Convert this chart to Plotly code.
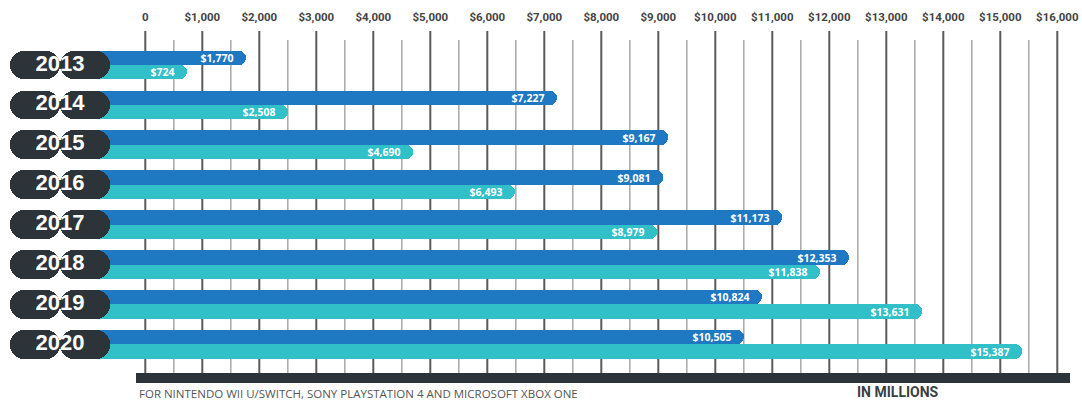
import plotly.graph_objects as go

# ---- data ----
YEARS = ["2013", "2014", "2015", "2016", "2017", "2018", "2019", "2020"]
SERIES_A = [1770, 7227, 9167, 9081, 11173, 12353, 10824, 10505]   # dark blue
SERIES_B = [724, 2508, 4690, 6493, 8979, 11838, 13631, 15387]     # teal
TICK_VALUES = [0, 1000, 2000, 3000, 4000, 5000, 6000, 7000, 8000, 9000,
               10000, 11000, 12000, 13000, 14000, 15000, 16000]
TICK_LABELS = ["0", "$1,000", "$2,000", "$3,000", "$4,000", "$5,000", "$6,000",
               "$7,000", "$8,000", "$9,000", "$10,000", "$11,000", "$12,000",
               "$13,000", "$14,000", "$15,000", "$16,000"]
MINOR_VALUES = [v + 500 for v in TICK_VALUES[:-1]]
FOOTNOTE = "FOR NINTENDO WII U/SWITCH, SONY PLAYSTATION 4 AND MICROSOFT XBOX ONE"
UNIT = "IN MILLIONS"

# ---- style ----
W, H = 1082, 403
TOP = 28
BLUE = "#1f78c2"
TEAL = "#31bfc8"
DARK = "#2c3339"
BASE = -1000          # bars start hidden under the year pills
PILL_C = -1496        # pill centre (data units)
PILL_HALF = 877

def py2paper(py):
    return (H - py) / (H - TOP)

fig = go.Figure()

VAL_FONT = dict(family="Open Sans", size=10.5, color="white", weight="bold")

fig.add_trace(go.Bar(
    y=YEARS, x=[v - BASE for v in SERIES_A], base=BASE, orientation="h",
    offset=-0.36, width=0.36, marker=dict(color=BLUE, cornerradius=7, line=dict(width=0)),
    text=["$" + format(v, ",") + "  " for v in SERIES_A], textposition="inside",
    insidetextanchor="end", textangle=0, textfont=VAL_FONT,
    hoverinfo="skip", showlegend=False))

fig.add_trace(go.Bar(
    y=YEARS, x=[v - BASE for v in SERIES_B], base=BASE, orientation="h",
    offset=0, width=0.36, marker=dict(color=TEAL, cornerradius=7, line=dict(width=0)),
    text=["$" + format(v, ",") + "  " for v in SERIES_B], textposition="inside",
    insidetextanchor="end", textangle=0, textfont=VAL_FONT,
    hoverinfo="skip", showlegend=False))

# year pills (two halves, each rounded at its outer end)
for sign in (1, -1):
    fig.add_trace(go.Bar(
        y=YEARS, x=[sign * PILL_HALF] * len(YEARS), base=PILL_C, orientation="h",
        offset=-0.36, width=0.72, marker=dict(color=DARK, cornerradius=14, line=dict(width=0)),
        hoverinfo="skip", showlegend=False))

fig.add_trace(go.Scatter(
    y=YEARS, x=[PILL_C] * len(YEARS), mode="text", text=YEARS,
    textposition="middle center",
    textfont=dict(family="Liberation Sans", size=22, color="white", weight="bold"),
    hoverinfo="skip", showlegend=False))

shapes = []
for v in TICK_VALUES:
    shapes.append(dict(type="line", xref="x", yref="paper", x0=v, x1=v,
                       y0=py2paper(376), y1=py2paper(31), layer="below",
                       line=dict(color="#5a5a5a", width=2)))
for v in MINOR_VALUES:
    shapes.append(dict(type="line", xref="x", yref="paper", x0=v, x1=v,
                       y0=py2paper(376), y1=py2paper(40), layer="below",
                       line=dict(color="#a8a8a8", width=1.5)))
shapes.append(dict(type="rect", xref="paper", yref="paper",
                   x0=136 / W, x1=1070 / W, y0=py2paper(383), y1=py2paper(373),
                   fillcolor=DARK, line=dict(width=0), layer="above"))

annotations = [
    dict(text=FOOTNOTE, xref="paper", yref="paper", x=137 / W, y=py2paper(393),
         xanchor="left", yanchor="middle", showarrow=False,
         font=dict(family="Open Sans", size=11.5, color="#555555")),
    dict(text=UNIT, xref="paper", yref="paper", x=898 / W, y=py2paper(392),
         xanchor="center", yanchor="middle", showarrow=False,
         font=dict(family="Roboto", size=14, color="#3a3f44", weight="bold")),
]

px_per_unit = 0.057
x0_px = 145.3
row0_px, row_step = 65.0, 39.9

fig.update_layout(
    width=W, height=H, margin=dict(l=0, r=0, t=TOP, b=0),
    paper_bgcolor="white", plot_bgcolor="white",
    barmode="overlay", bargap=0,
    uniformtext=dict(minsize=10.5, mode="show"),
    shapes=shapes, annotations=annotations,
    xaxis=dict(range=[-x0_px / px_per_unit, (W - x0_px) / px_per_unit],
               side="top", tickvals=TICK_VALUES, ticktext=TICK_LABELS,
               showgrid=False, zeroline=False, showline=False, ticks="",
               ticklabelstandoff=4,
               tickfont=dict(family="Roboto", size=11.5, color="#444444", weight="bold")),
    yaxis=dict(type="category", categoryorder="array", categoryarray=YEARS,
               range=[(H - row0_px) / row_step, (TOP - row0_px) / row_step],
               showgrid=False, zeroline=False, showline=False, showticklabels=False,
               ticks=""),
)

fig.write_html("out.html")
